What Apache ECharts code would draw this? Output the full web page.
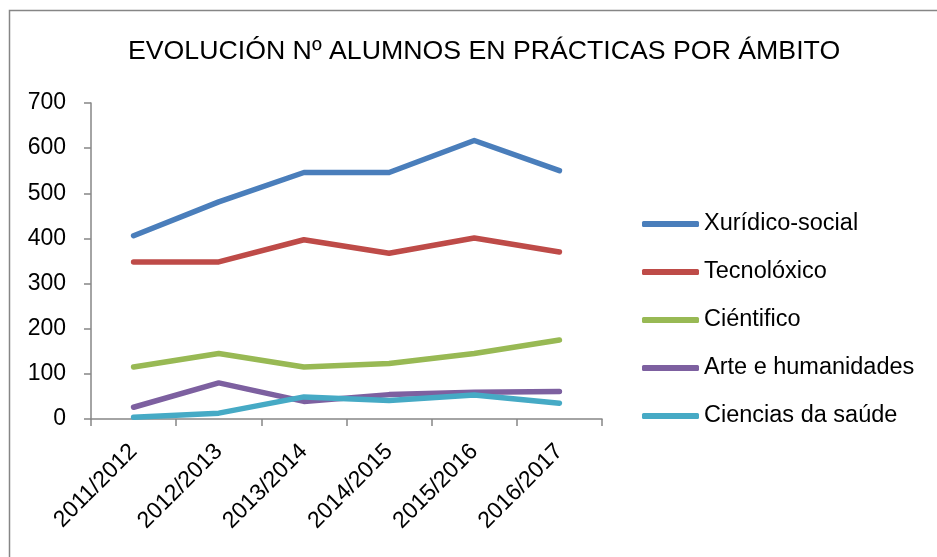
<!DOCTYPE html>
<html>
<head>
<meta charset="utf-8">
<script src="https://cdn.jsdelivr.net/npm/echarts@6/dist/echarts.min.js"></script>
<style>
  html, body { margin: 0; padding: 0; background: #fff; }
  #chart { width: 937px; height: 557px; }
</style>
</head>
<body>
<div id="chart"></div>
<script>
// cursos académicos
var courses = ['2011/2012', '2012/2013', '2013/2014', '2014/2015', '2015/2016', '2016/2017']
var seriesNames = ['Xurídico-social', 'Tecnolóxico', 'Ciéntifico', 'Arte e humanidades', 'Ciencias da saúde']
var xuridico = [406, 481, 546, 546, 617, 550]
var tecnoloxico = [348, 348, 397, 367, 401, 370]
var cientifico = [115, 145, 115, 123, 145, 175]
var arte = [26, 80, 39, 54, 59, 61]
var ciencias = [4, 13, 49, 41, 53, 35]
var colors = ['#4a7ebb', '#be4b48', '#98b954', '#7d60a0', '#46aac5']

var font = 'Liberation Sans'
var chart = echarts.init(document.getElementById('chart'))

function lineSeries(name, data, i) {
  return {
    name: name,
    type: 'line',
    data: data,
    showSymbol: false,
    symbol: 'none',
    animation: false,
    lineStyle: { width: 5.5, color: colors[i], cap: 'round', join: 'round' },
    itemStyle: { color: colors[i] }
  }
}

chart.setOption({
  color: colors,
  title: {
    text: 'EVOLUCIÓN Nº ALUMNOS EN PRÁCTICAS POR ÁMBITO',
    left: 123,
    top: 33,
    textStyle: { fontFamily: font, fontSize: 26.7, fontWeight: 'normal', color: '#000' }
  },
  legend: {
    orient: 'vertical',
    left: 637,
    top: 207,
    itemWidth: 57,
    itemHeight: 6,
    itemGap: 24,
    icon: 'roundRect',
    data: seriesNames,
    textStyle: { fontFamily: font, fontSize: 23.5, color: '#000' }
  },
  grid: {
    left: 91,
    right: 335,
    top: 103,
    bottom: 138,
    containLabel: false,
    outerBoundsMode: 'none'
  },
  xAxis: {
    type: 'category',
    data: courses,
    boundaryGap: true,
    axisLine: { lineStyle: { color: '#868686', width: 1.5 } },
    axisTick: { show: true, length: 7, alignWithLabel: false, lineStyle: { color: '#868686', width: 1.5 } },
    axisLabel: { rotate: 45, margin: 29, interval: 0, fontFamily: font, fontSize: 23, color: '#000' }
  },
  yAxis: {
    type: 'value',
    min: 0,
    max: 700,
    interval: 100,
    splitLine: { show: false },
    axisLine: { show: true, lineStyle: { color: '#868686', width: 1.5 } },
    axisTick: { show: true, length: 7, lineStyle: { color: '#868686', width: 1.5 } },
    axisLabel: { margin: 25, fontFamily: font, fontSize: 23, color: '#000' }
  },
  graphic: [{
    type: 'rect',
    shape: { x: 9.5, y: 10.5, width: 1000, height: 1000 },
    style: { fill: 'none', stroke: '#868686', lineWidth: 1.5 },
    silent: true
  }],
  series: [
    lineSeries(seriesNames[0], xuridico, 0),
    lineSeries(seriesNames[1], tecnoloxico, 1),
    lineSeries(seriesNames[2], cientifico, 2),
    lineSeries(seriesNames[3], arte, 3),
    lineSeries(seriesNames[4], ciencias, 4)
  ]
})
</script>
</body>
</html>
